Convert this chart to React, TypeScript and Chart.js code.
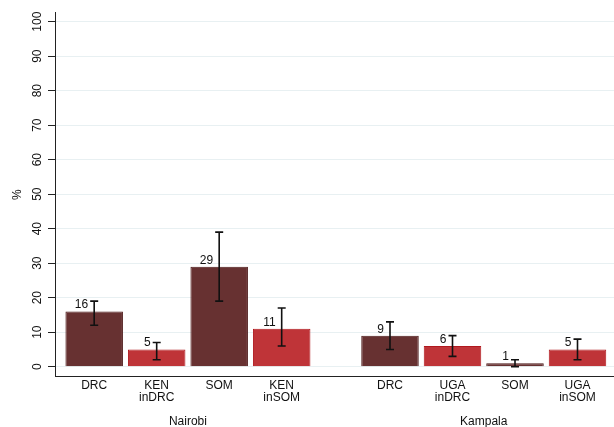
import React, { useEffect, useRef } from "react";
import { Chart, registerables } from "chart.js";

Chart.register(...registerables);

const groups = ["Nairobi", "Kampala"];
const categories: string[][] = [
  ["DRC"], ["KEN", "inDRC"], ["SOM"], ["KEN", "inSOM"],
  ["DRC"], ["UGA", "inDRC"], ["SOM"], ["UGA", "inSOM"],
];
const groupOf = [0, 0, 0, 0, 1, 1, 1, 1];
const values = [16, 5, 29, 11, 9, 6, 1, 5];
const lower = [12, 2, 19, 6, 5, 3, 0, 2];
const upper = [19, 7, 39, 17, 13, 9, 2, 8];
const yTicks = [0, 10, 20, 30, 40, 50, 60, 70, 80, 90, 100];

const FONT = "'Liberation Sans', Arial, Helvetica, sans-serif";
const DARK = "#673131";
const DARK_BORDER = "#4a1616";
const RED = "#bf3438";
const RED_BORDER = "#b0181e";
const GROUP_GAP = 0.733;

export default function App() {
  const ref = useRef<HTMLCanvasElement | null>(null);

  useEffect(() => {
    document.body.style.margin = "0";
    const canvas = ref.current;
    if (!canvas) return;

    const counters: number[] = groups.map(() => 0);
    const positions = groupOf.map((g) => {
      const idx = counters[g]++;
      let offset = 0;
      for (let k = 0; k < g; k++) offset += groupOf.filter((q) => q === k).length + GROUP_GAP;
      return offset + idx;
    });
    const groupCenters = groups.map((_, g) => {
      const ps = positions.filter((_, i) => groupOf[i] === g);
      return (Math.min(...ps) + Math.max(...ps)) / 2;
    });
    const isDark = categories.map((c) => c.length === 1);

    const errorPlugin = {
      id: "errbars",
      afterDatasetsDraw(chart: any) {
        const ctx = chart.ctx;
        const xs = chart.scales.x;
        const ys = chart.scales.y;
        ctx.save();
        ctx.strokeStyle = "#111";
        ctx.lineWidth = 1.6;
        positions.forEach((p, i) => {
          const x = xs.getPixelForValue(p);
          const yl = ys.getPixelForValue(lower[i]);
          const yu = ys.getPixelForValue(upper[i]);
          ctx.beginPath();
          ctx.moveTo(x, yl);
          ctx.lineTo(x, yu);
          ctx.moveTo(x - 4, yl);
          ctx.lineTo(x + 4, yl);
          ctx.moveTo(x - 4, yu);
          ctx.lineTo(x + 4, yu);
          ctx.stroke();
        });
        ctx.fillStyle = "#111";
        ctx.font = `12px ${FONT}`;
        ctx.textAlign = "right";
        ctx.textBaseline = "alphabetic";
        positions.forEach((p, i) => {
          const x = xs.getPixelForValue(p);
          const y = ys.getPixelForValue(values[i]);
          ctx.fillText(String(values[i]), x - 6, y - 3);
        });
        ctx.restore();
      },
    };

    const chart = new Chart(canvas, {
      type: "bar",
      data: {
        datasets: [
          {
            data: positions.map((p, i) => ({ x: p, y: values[i] })),
            backgroundColor: isDark.map((d) => (d ? DARK : RED)),
            borderColor: isDark.map((d) => (d ? DARK_BORDER : RED_BORDER)),
            borderWidth: 1,
            barPercentage: 0.92,
            categoryPercentage: 1,
          },
        ],
      },
      options: {
        responsive: false,
        animation: false,
        layout: { padding: { top: 12.7, right: 0, left: 0, bottom: 0 } },
        plugins: {
          legend: { display: false },
          tooltip: { enabled: false },
        },
        scales: {
          x: {
            type: "linear",
            position: "bottom",
            weight: 0,
            offset: false,
            min: -0.627,
            max: 8.317,
            afterBuildTicks: (scale: any) => {
              scale.ticks = positions.map((p) => ({ value: p }));
            },
            afterFit: (scale: any) => {
              scale.height = 30;
            },
            grid: { display: false, drawTicks: false, offset: false },
            border: { display: true, color: "#222", width: 1 },
            ticks: {
              autoSkip: false,
              maxRotation: 0,
              minRotation: 0,
              padding: 3,
              color: "#111",
              font: { family: FONT, size: 12, lineHeight: 1.0 },
              callback: (_v: any, i: number) => categories[i],
            },
          },
          x2: {
            type: "linear",
            position: "bottom",
            weight: 1,
            offset: false,
            min: -0.627,
            max: 8.317,
            afterBuildTicks: (scale: any) => {
              scale.ticks = groupCenters.map((p) => ({ value: p }));
            },
            afterFit: (scale: any) => {
              scale.height = 20.3;
            },
            grid: { display: false, drawTicks: false },
            border: { display: false },
            ticks: {
              autoSkip: false,
              maxRotation: 0,
              minRotation: 0,
              padding: 8.5,
              color: "#111",
              font: { family: FONT, size: 12, lineHeight: 1.0 },
              callback: (_v: any, i: number) => groups[i],
            },
          },
          y: {
            type: "linear",
            position: "left",
            min: -2.9,
            max: 102.6,
            afterBuildTicks: (scale: any) => {
              scale.ticks = yTicks.map((v) => ({ value: v }));
            },
            afterFit: (scale: any) => {
              scale.width = 55;
            },
            grid: {
              color: "#e8f0f2",
              lineWidth: 1,
              drawTicks: true,
              tickLength: 7,
              tickColor: "#222",
            },
            border: { display: true, color: "#222", width: 1 },
            ticks: {
              minRotation: 90,
              maxRotation: 90,
              crossAlign: "center",
              padding: 0,
              color: "#111",
              font: { family: FONT, size: 12 },
            },
            title: {
              display: true,
              text: "%",
              color: "#111",
              font: { family: FONT, size: 12 },
              padding: { top: 10, bottom: 0 },
            },
          },
        },
      },
      plugins: [errorPlugin],
    } as any);

    return () => chart.destroy();
  }, []);

  return (
    <div style={{ width: 614, height: 427, background: "#fff" }}>
      <canvas ref={ref} width={614} height={427} style={{ display: "block" }} />
    </div>
  );
}
